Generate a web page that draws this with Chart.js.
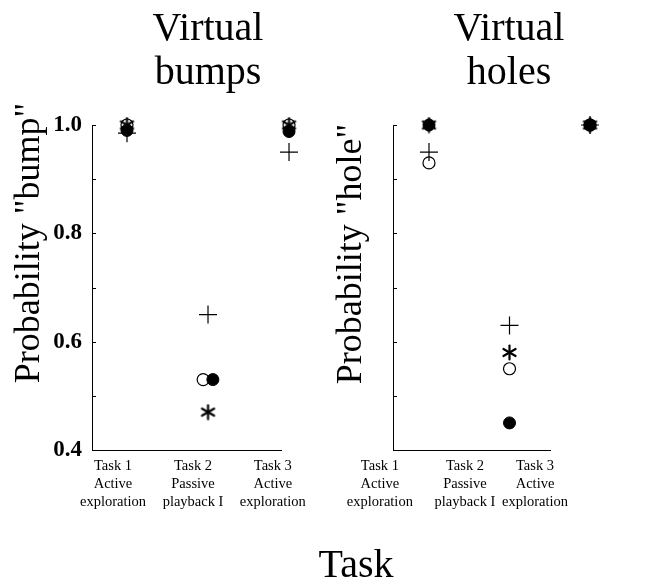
<!DOCTYPE html>
<html>
<head>
<meta charset="utf-8">
<script src="https://cdn.jsdelivr.net/npm/chart.js@4.4.1/dist/chart.umd.min.js"></script>
<style>
  html, body { margin: 0; padding: 0; background: #fff; overflow: hidden; }
  #wrap { position: relative; width: 652px; height: 585px; }
  canvas { position: absolute; left: 0; top: 0; }
</style>
</head>
<body>
<div id="wrap">
  <canvas id="bumps" width="652" height="585"></canvas>
  <canvas id="holes" width="652" height="585"></canvas>
</div>
<script>
// --- data ---
const tasks = [
  ['Task 1', 'Active', 'exploration'],
  ['Task 2', 'Passive', 'playback I'],
  ['Task 3', 'Active', 'exploration']
];
const yTickLabels = ['0.4', '0.6', '0.8', '1.0'];

// Virtual bumps: P("bump")
const bumpsPlus   = [0.985, 0.65, 0.95];
const bumpsStar   = [1.0, 0.47, 1.0];
const bumpsFilled = [0.99, 0.53, 0.988];
const bumpsOpen   = [1.0, 0.53, 1.0];

// Virtual holes: P("hole")
const holesPlus   = [0.95, 0.63, 1.0];
const holesStar   = [1.0, 0.58, 1.0];
const holesFilled = [1.0, 0.45, 1.0];
const holesOpen   = [0.93, 0.55, 1.0];

const SERIF = '"Liberation Serif", "Times New Roman", serif';

// small side-by-side nudge so overlapping circles stay visible (bumps, task 2)
const circleNudge = [0, 0.06, 0];
const noNudge = [0, 0, 0];

// asterisk marker (6 arms), drawn once on a small canvas
function makeAsterisk(size) {
  const c = document.createElement('canvas');
  c.width = size; c.height = size;
  const g = c.getContext('2d');
  g.translate(size / 2, size / 2);
  g.strokeStyle = '#000';
  g.lineWidth = 2.2;
  g.lineCap = 'round';
  for (let k = 0; k < 6; k++) {
    const a = -Math.PI / 2 + k * Math.PI / 3;
    g.beginPath();
    g.moveTo(0, 0);
    g.lineTo(Math.cos(a) * (size / 2 - 1.5), Math.sin(a) * (size / 2 - 1.5));
    g.stroke();
  }
  return c;
}
const asterisk = makeAsterisk(17);

function series(values, nudge, sign, style) {
  return Object.assign({
    data: values.map((v, i) => ({ x: i + 1 + sign * nudge[i], y: v })),
    clip: false
  }, style);
}

const plusStyle   = { pointStyle: 'cross', pointRadius: 9, borderColor: '#000', backgroundColor: '#000', borderWidth: 1.2 };
const starStyle   = { pointStyle: asterisk, pointRadius: 8 };
const filledStyle = { pointStyle: 'circle', pointRadius: 6, borderColor: '#000', backgroundColor: '#000', borderWidth: 1 };
const openStyle   = { pointStyle: 'circle', pointRadius: 6, borderColor: '#000', backgroundColor: '#fff', borderWidth: 1.2 };

// markers of task 3 sit past the end of the drawn x axis: let them render
const wideMarkers = {
  id: 'wideMarkers',
  beforeDatasetsDraw(chart) {
    chart.$savedRight = chart.chartArea.right;
    chart.chartArea.right = chart.width;
  },
  afterDatasetsDraw(chart) {
    chart.chartArea.right = chart.$savedRight;
  }
};

// draws the free text of the figure (titles) at fixed places
const figText = {
  id: 'figText',
  afterDraw(chart, args, opts) {
    const ctx = chart.ctx;
    ctx.save();
    ctx.fillStyle = '#000';
    ctx.textAlign = 'center';
    ctx.textBaseline = 'alphabetic';
    (opts.items || []).forEach(t => {
      ctx.save();
      ctx.font = t.size + 'px ' + SERIF;
      ctx.translate(t.x, t.y);
      if (t.rotate) ctx.rotate(t.rotate);
      ctx.fillText(t.text, 0, 0);
      ctx.restore();
    });
    ctx.restore();
  }
};

// short inward tick marks on the y axis
const innerTicks = {
  id: 'innerTicks',
  afterDraw(chart) {
    const sy = chart.scales.y, left = chart.chartArea.left;
    const ctx = chart.ctx;
    ctx.save();
    ctx.strokeStyle = '#000';
    ctx.lineWidth = 1;
    sy.ticks.forEach(t => {
      const py = Math.round(sy.getPixelForValue(t.value)) + 0.5;
      ctx.beginPath();
      ctx.moveTo(left, py);
      ctx.lineTo(left + 4, py);
      ctx.stroke();
    });
    ctx.restore();
  }
};

function makePanel(id, cfg) {
  return new Chart(document.getElementById(id), {
    type: 'scatter',
    data: { datasets: cfg.datasets },
    plugins: [wideMarkers, figText, innerTicks],
    options: {
      responsive: false,
      devicePixelRatio: 1,
      animation: false,
      events: [],
      layout: { padding: cfg.padding },
      plugins: {
        legend: { display: false },
        tooltip: { enabled: false },
        figText: { items: cfg.text }
      },
      scales: {
        x: {
          type: 'linear',
          min: cfg.xMin,
          max: cfg.xMax,
          grid: { display: false, drawTicks: false },
          border: { display: true, color: '#000', width: 1 },
          afterFit: s => { s.height = 135; },
          afterBuildTicks: s => { s.ticks = cfg.labelAt.map(v => ({ value: v })); },
          ticks: {
            autoSkip: false,
            maxRotation: 0,
            padding: 7,
            color: '#000',
            font: { family: SERIF, size: 14.5, lineHeight: 1.25 },
            callback: (v, i) => tasks[i]
          }
        },
        y: {
          min: 0.4,
          max: 1.0,
          grid: { display: false, drawTicks: false },
          border: { display: true, color: '#000', width: 1 },
          afterFit: s => { s.width = cfg.yWidth; },
          ticks: {
            display: cfg.yLabels,
            stepSize: 0.1,
            padding: 10,
            color: '#000',
            font: { family: SERIF, size: 23, weight: 'bold' },
            callback: v => {
              const s = v.toFixed(1);
              return yTickLabels.includes(s) ? s : '';
            }
          }
        }
      }
    }
  });
}

makePanel('bumps', {
  padding: { left: 0, top: 125, right: 371, bottom: 0 },
  yWidth: 92,
  yLabels: true,
  xMin: 0.568, xMax: 2.901,
  labelAt: [0.827, 1.815, 2.80],
  datasets: [
    series(bumpsPlus, noNudge, 0, plusStyle),
    series(bumpsStar, noNudge, 0, starStyle),
    series(bumpsFilled, circleNudge, 1, filledStyle),
    series(bumpsOpen, circleNudge, -1, openStyle)
  ],
  text: [
    { text: 'Virtual', x: 208, y: 40, size: 40 },
    { text: 'bumps', x: 208, y: 84, size: 40 },
    { text: 'Probability "bump"', x: 39, y: 243, size: 36, rotate: -Math.PI / 2 },
    { text: 'Task', x: 356, y: 577, size: 40 }
  ]
});

makePanel('holes', {
  padding: { left: 330, top: 125, right: 102, bottom: 0 },
  yWidth: 63,
  yLabels: false,
  xMin: 0.553, xMax: 2.503,
  labelAt: [0.39, 1.447, 2.317],
  datasets: [
    series(holesPlus, noNudge, 0, plusStyle),
    series(holesStar, noNudge, 0, starStyle),
    series(holesFilled, noNudge, 0, filledStyle),
    series(holesOpen, noNudge, 0, openStyle)
  ],
  text: [
    { text: 'Virtual', x: 509, y: 40, size: 40 },
    { text: 'holes', x: 509, y: 84, size: 40 },
    { text: 'Probability "hole"', x: 361, y: 254, size: 36, rotate: -Math.PI / 2 }
  ]
});
</script>
</body>
</html>
